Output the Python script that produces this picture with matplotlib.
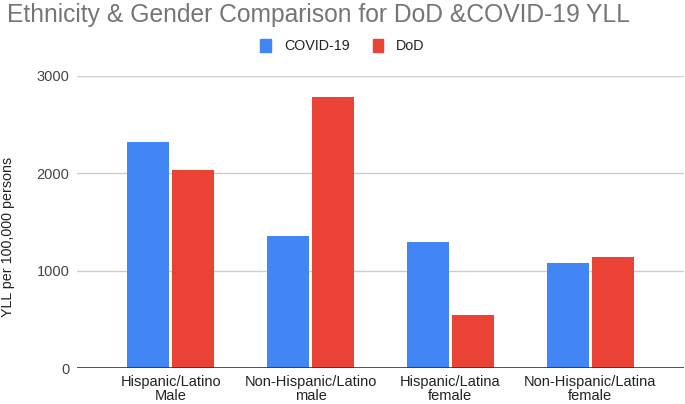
import matplotlib
matplotlib.use('Agg')
import matplotlib.pyplot as plt
import numpy as np
from matplotlib.patches import Patch

plt.rcParams['font.family'] = ['Liberation Sans', 'DejaVu Sans']

categories = ['Hispanic/Latino\nMale', 'Non-Hispanic/Latino\nmale',
              'Hispanic/Latina\nfemale', 'Non-Hispanic/Latina\nfemale']
covid = [2322, 1357, 1295, 1082]
dod = [2029, 2778, 547, 1144]
series_names = ['COVID-19', 'DoD']
yticks = [0, 1000, 2000, 3000]

blue = '#4285F4'
red = '#EA4335'

fig = plt.figure(figsize=(6.85, 4.04), dpi=100)
ax = fig.add_axes([77 / 685, 1 - 368.3 / 404, 607 / 685, (368.3 - 75.7) / 404])

x = np.arange(len(categories))
w = 0.30
gap = 0.011
ax.bar(x - w / 2 - gap, covid, width=w, color=blue, zorder=3)
ax.bar(x + w / 2 + gap, dod, width=w, color=red, zorder=3)

ax.set_xlim(-0.672, 3.672)
ax.set_ylim(0, 3000)
ax.set_yticks(yticks)
ax.set_yticklabels([str(t) for t in yticks])
ax.set_xticks(x)
ax.set_xticklabels(categories, linespacing=1.0)
ax.tick_params(axis='both', length=0, labelsize=10.5, colors='#444444')
ax.tick_params(axis='x', pad=4.5, labelcolor='#222222')
ax.tick_params(axis='y', pad=5.5)
for s in ax.spines.values():
    s.set_visible(False)
for t in yticks[1:]:
    ax.axhline(t, color='#cccccc', lw=1, zorder=1)
ax.axhline(0, color='#333333', lw=1.2, zorder=4)

fig.text(7 / 685, 1 - 3 / 404, 'Ethnicity & Gender Comparison for DoD &COVID-19 YLL',
         ha='left', va='top', fontsize=17.7, color='#757575')
fig.text(8 / 685, 1 - 237 / 404, 'YLL per 100,000 persons', rotation=90,
         ha='center', va='center', fontsize=10.3, color='#222222')

handles = [Patch(color=blue), Patch(color=red)]
fig.legend(handles, series_names, loc='center', bbox_to_anchor=(0.5, 1 - 46 / 404),
           ncol=2, frameon=False, fontsize=10.3, handlelength=0.75, handleheight=1.0,
           handletextpad=0.9, columnspacing=1.6, labelcolor='#222222')

fig.savefig('out.png', dpi=100)
